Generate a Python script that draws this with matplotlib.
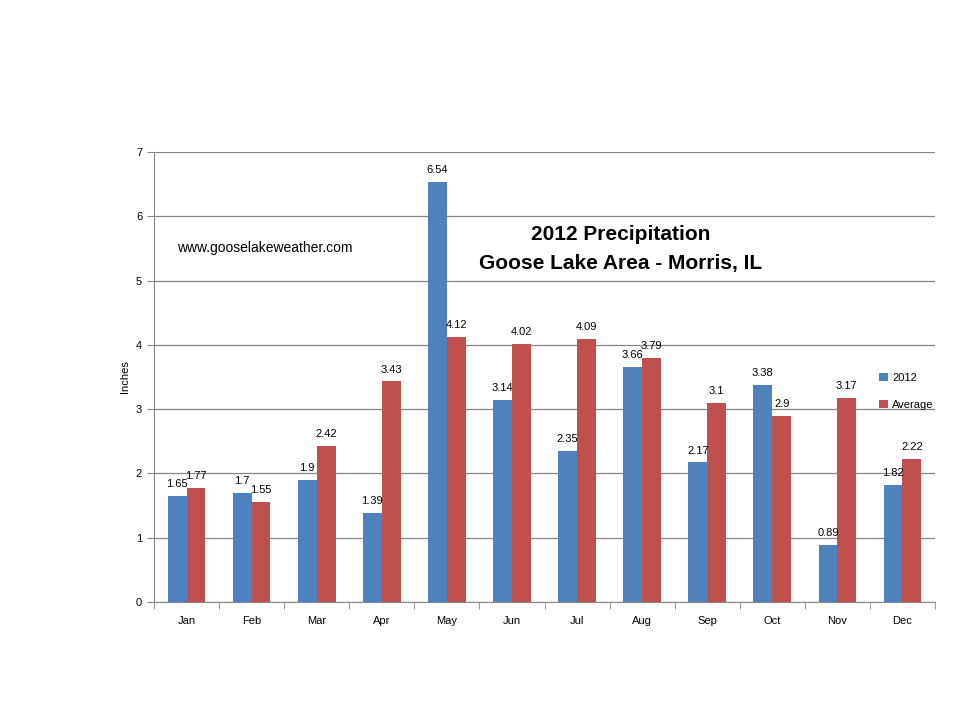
import numpy as np
import matplotlib.pyplot as plt

months = ['Jan', 'Feb', 'Mar', 'Apr', 'May', 'Jun', 'Jul', 'Aug', 'Sep', 'Oct', 'Nov', 'Dec']
precip_2012 = [1.65, 1.7, 1.9, 1.39, 6.54, 3.14, 2.35, 3.66, 2.17, 3.38, 0.89, 1.82]
precip_avg = [1.77, 1.55, 2.42, 3.43, 4.12, 4.02, 4.09, 3.79, 3.1, 2.9, 3.17, 2.22]

plt.rcParams['font.family'] = ['Liberation Sans', 'DejaVu Sans']

fig = plt.figure(figsize=(9.6, 7.2), dpi=100)
ax = fig.add_axes([0.1604, 0.1639, 0.8136, 0.625])

x = np.arange(len(months))
w = 0.29
b1 = ax.bar(x - w / 2, precip_2012, w, color='#4F81BD', label='2012', zorder=3)
b2 = ax.bar(x + w / 2, precip_avg, w, color='#C0504D', label='Average', zorder=3)

# value labels on top of each bar
for bars, vals in ((b1, precip_2012), (b2, precip_avg)):
    for rect, v in zip(bars, vals):
        ax.annotate(f'{v:g}', (rect.get_x() + rect.get_width() / 2, rect.get_height()),
                    xytext=(0, 5), textcoords='offset points',
                    ha='center', va='bottom', fontsize=8, zorder=4)

ax.set_xlim(-0.5, len(months) - 0.5)
ax.set_ylim(0, 7)
ax.set_yticks(range(0, 8))
ax.set_xticks(x)
ax.set_xticklabels(months, fontsize=8)
ax.set_xticks(np.arange(-0.5, len(months)), minor=True)
ax.tick_params(axis='x', which='major', length=0, pad=10)
ax.tick_params(axis='x', which='minor', length=5, color='#868686', direction='out')
ax.tick_params(axis='y', labelsize=8, length=5, color='#868686', direction='out')
ax.grid(axis='y', color='#868686', linewidth=0.9, zorder=0)
for s in ('top', 'right'):
    ax.spines[s].set_visible(False)
for s in ('left', 'bottom'):
    ax.spines[s].set_color('#868686')
ax.set_ylabel('Inches', fontsize=8, labelpad=4)

ax.text(0.597, 0.785, '2012 Precipitation\nGoose Lake Area - Morris, IL',
        transform=ax.transAxes, ha='center', va='center',
        fontsize=15, fontweight='bold', linespacing=1.65)
ax.text(0.03, 0.787, 'www.gooselakeweather.com', transform=ax.transAxes,
        ha='left', va='center', fontsize=10)

ax.legend(loc='center left', bbox_to_anchor=(0.915, 0.468), frameon=False,
          fontsize=8, handlelength=0.8, handleheight=0.8, labelspacing=1.5,
          handletextpad=0.4)

fig.savefig('out.png', dpi=100)
